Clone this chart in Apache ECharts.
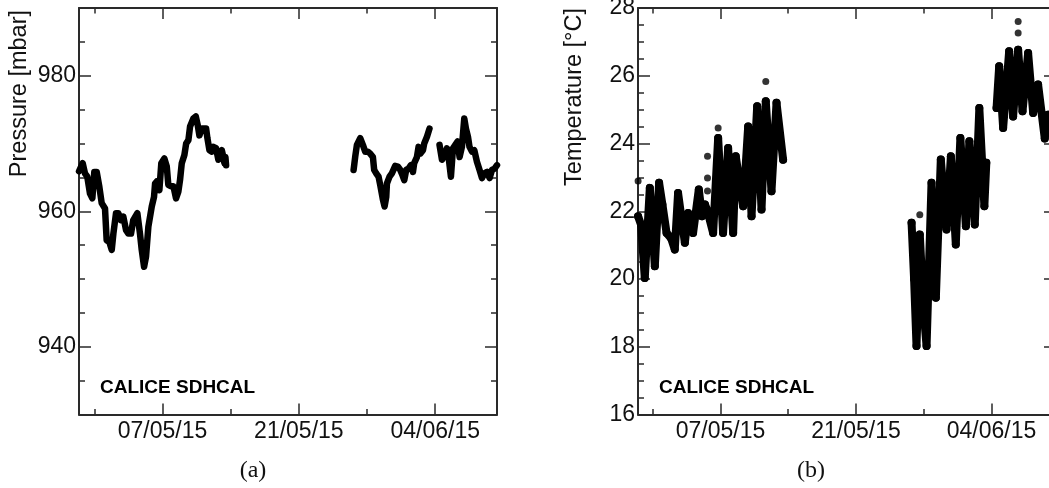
<!DOCTYPE html>
<html>
<head>
<meta charset="utf-8">
<script src="https://cdn.jsdelivr.net/npm/echarts@6/dist/echarts.min.js"></script>
<style>
  html, body { margin: 0; padding: 0; background: #fff; }
  #chart { width: 1049px; height: 488px; }
</style>
</head>
<body>
<div id="chart"></div>
<script>
// Time axis: days since 30/04/15 00:00
const dateTickDays = [0, 14, 28];          // short weekly ticks
const dateLabelDays = [7, 21, 35];         // long ticks carrying a date label
const dateLabels = ['07/05/15', '21/05/15', '04/06/15'];

const pressureLabelTicks = [940, 960, 980];
const pressureMinorTicks = [935, 945, 950, 955, 965, 970, 975, 985];
const tempLabelTicks = [16, 18, 20, 22, 24, 26, 28];
const tempMinorTicks = [16.5, 17, 17.5, 18.5, 19, 19.5, 20.5, 21, 21.5, 22.5, 23, 23.5, 24.5, 25, 25.5, 26.5, 27, 27.5];

// Ambient pressure (mbar); null separates the three data-taking periods
const pressureDays = [
  -1.57, -1.19, -0.96, -0.72, -0.44, -0.2, 0, 0.25, 0.52, 0.76, 1.1, 1.27, 1.54, 1.79, 1.96, 2.23, 2.47, 2.71, 2.98,
  3.26, 3.5, 3.77, 4.0, 4.42, 4.69, 4.87, 5.11, 5.31, 5.55, 5.9, 6.13, 6.24, 6.41, 6.68, 6.88, 7.19, 7.44, 7.6, 7.85,
  8.12, 8.39, 8.63, 8.8, 8.98, 9.25, 9.43, 9.66, 9.83, 10.17, 10.42, 10.62, 10.79, 11.03, 11.27, 11.48, 11.61, 11.82,
  12.06, 12.22, 12.5, 12.74, 12.91, 13.09, 13.25, 13.36, 13.46, 13.53,
  null,
  26.62, 26.78, 26.96, 27.3, 27.57, 27.81, 28.09, 28.33, 28.6, 28.73, 28.94, 29.18, 29.35, 29.63, 29.8, 29.97, 30.04,
  30.31, 30.55, 30.89, 31.17, 31.41, 31.64, 31.82, 32.02, 32.26, 32.5, 32.71, 32.84, 33.12, 33.29, 33.46, 33.74,
  33.87, 34.15, 34.41,
  null,
  35.44, 35.69, 35.86, 36.03, 36.2, 36.37, 36.61, 36.82, 37.06, 37.29, 37.5, 37.74, 37.98, 38.15, 38.36, 38.52,
  38.77, 39.01, 39.28, 39.55, 39.8, 40.03, 40.31, 40.58, 40.83, 41.09, 41.34
];
const pressureMbar = [
  965.9, 967.1, 965.6, 965.1, 962.6, 961.9, 965.8, 965.8, 963.6, 961.2, 960.4, 955.7, 955.5, 954.3, 956.7, 959.7, 959.7,
  958.7, 959.2, 957.2, 956.7, 956.7, 958.7, 959.7, 956.7, 954.3, 951.8, 953.3, 957.7, 960.7, 962.1, 964.1, 964.4, 963.1,
  967.1, 967.8, 966.6, 963.9, 963.7, 963.7, 961.9, 962.9, 964.6, 967.1, 968.3, 970.0, 970.5, 972.5, 973.7, 974.0,
  972.7, 971.2, 972.2, 972.2, 972.2, 970.8, 969.0, 968.8, 969.5, 969.3, 967.6, 968.6, 969.0, 968.0, 967.1, 968.0, 966.8,
  null,
  966.1, 968.0, 969.8, 970.8, 969.8, 968.8, 968.8, 968.5, 968.0, 966.1, 965.6, 965.1, 963.9, 961.7, 960.7, 962.1,
  964.1, 965.1, 965.6, 966.7, 966.6, 966.1, 965.3, 964.6, 966.1, 966.3, 966.8, 965.8, 967.1, 968.0, 969.5, 968.5,
  969.0, 970.0, 971.0, 972.2,
  null,
  969.8, 967.6, 968.0, 968.5, 969.3, 968.0, 965.1, 969.3, 969.8, 970.3, 968.0, 969.5, 973.7, 972.2, 971.0, 969.5,
  968.8, 969.0, 967.3, 966.1, 964.9, 965.6, 965.8, 964.9, 966.1, 966.3, 966.8
];

// Hall temperature (°C): daily highs and lows of the sensor readings
const tempDays = [
  -1.51, -1.2, -0.82, -0.3, 0.22, 0.66, 1.0, 1.43, 1.9, 2.28, 2.62, 3.32, 3.66, 4.17, 4.76, 5.1, 5.4, 5.66, 6.24,
  6.76, 7.27, 7.79, 8.31, 8.58, 9.34, 9.86, 10.21, 10.79, 11.24, 11.68, 12.27, 12.79, 13.47,
  null,
  26.74, 27.0, 27.25, 27.59, 28.0, 28.29, 28.8, 29.25, 29.76, 30.35, 30.8, 31.31, 31.78, 32.35, 32.71, 33.27, 33.74,
  34.26, 34.46,
  null,
  35.52, 35.79, 36.2, 36.82, 37.23, 37.75, 38.2, 38.78, 39.3, 39.81, 40.5, 40.84
];
const tempC = [
  21.85, 21.6, 20.03, 22.69, 20.38, 22.84, 22.2, 21.36, 21.2, 20.87, 22.54, 21.07, 21.95, 21.36, 22.64, 21.85, 22.2,
  22.0, 21.36, 24.16, 21.36, 23.87, 21.36, 23.62, 22.15, 24.5, 21.85, 25.1, 22.05, 25.25, 22.59, 25.2, 23.52,
  null,
  21.66, 20.0, 18.02, 21.31, 19.0, 18.02, 22.84, 19.45, 23.53, 21.46, 23.62, 21.02, 24.16, 21.56, 24.07, 21.61, 25.05,
  22.15, 23.43,
  null,
  25.05, 26.28, 24.46, 26.72, 24.8, 26.77, 24.95, 26.67, 24.9, 25.74, 24.15, 24.85
];
// Isolated readings away from the daily band
const tempSpikeDays = [-1.51, 5.66, 5.66, 5.66, 6.76, 11.68, 27.59, 37.75, 37.75];
const tempSpikeC = [22.89, 23.62, 22.98, 22.6, 24.46, 25.83, 21.9, 27.6, 27.26];

const FRAME = '#2a2a2a';
const LABEL_FONT = 'Liberation Sans, Arial, Helvetica, sans-serif';
const tickStyle = { color: FRAME, width: 1.5 };

const toPairs = (xs, ys) => xs.map((x, i) => (x === null ? ['-', '-'] : [x, ys[i]]));

function dateText(v) {
  const i = dateLabelDays.findIndex(d => Math.abs(d - v) < 1e-6);
  return i >= 0 ? dateLabels[i] : '';
}

// Four x axes per panel: bottom/top, long labelled ticks and short weekly ticks
function xAxes(grid, min, max) {
  const base = { gridIndex: grid, type: 'value', min, max, splitLine: { show: false } };
  return [
    Object.assign({}, base, {
      position: 'bottom',
      axisLine: { show: true, onZero: false, lineStyle: { color: FRAME, width: 2 } },
      axisTick: { show: true, inside: true, length: 11, customValues: dateLabelDays, lineStyle: tickStyle },
      axisLabel: {
        show: true, customValues: dateLabelDays, formatter: dateText, margin: 6,
        fontFamily: LABEL_FONT, fontSize: 23, color: '#111'
      }
    }),
    Object.assign({}, base, {
      position: 'bottom',
      axisLine: { show: false, onZero: false },
      axisTick: { show: true, inside: true, length: 5.5, customValues: dateTickDays, lineStyle: tickStyle },
      axisLabel: { show: false }
    }),
    Object.assign({}, base, {
      position: 'top',
      axisLine: { show: true, onZero: false, lineStyle: { color: FRAME, width: 2 } },
      axisTick: { show: true, inside: true, length: 11, customValues: dateLabelDays, lineStyle: tickStyle },
      axisLabel: { show: false }
    }),
    Object.assign({}, base, {
      position: 'top',
      axisLine: { show: false, onZero: false },
      axisTick: { show: true, inside: true, length: 5.5, customValues: dateTickDays, lineStyle: tickStyle },
      axisLabel: { show: false }
    })
  ];
}

function yAxes(grid, min, max, majors, minors, labelMargin) {
  const base = { gridIndex: grid, type: 'value', min, max, splitLine: { show: false } };
  return [
    Object.assign({}, base, {
      position: 'left',
      axisLine: { show: true, onZero: false, lineStyle: { color: FRAME, width: 2 } },
      axisTick: { show: true, inside: true, length: 12, customValues: majors, lineStyle: tickStyle },
      axisLabel: {
        show: true, customValues: majors, margin: labelMargin,
        fontFamily: LABEL_FONT, fontSize: 23, color: '#111'
      }
    }),
    Object.assign({}, base, {
      position: 'left',
      axisLine: { show: false, onZero: false },
      axisTick: { show: true, inside: true, length: 6, customValues: minors, lineStyle: tickStyle },
      axisLabel: { show: false }
    }),
    Object.assign({}, base, {
      position: 'right',
      axisLine: { show: true, onZero: false, lineStyle: { color: FRAME, width: 2 } },
      axisTick: { show: true, inside: true, length: 12, customValues: majors, lineStyle: tickStyle },
      axisLabel: { show: false }
    }),
    Object.assign({}, base, {
      position: 'right',
      axisLine: { show: false, onZero: false },
      axisTick: { show: true, inside: true, length: 6, customValues: minors, lineStyle: tickStyle },
      axisLabel: { show: false }
    })
  ];
}

const chart = echarts.init(document.getElementById('chart'), null, { renderer: 'canvas' });

chart.setOption({
  backgroundColor: '#fff',
  animation: false,
  grid: [
    { left: 79, top: 8, width: 418, height: 406.5, outerBoundsMode: 'none', containLabel: false },
    { left: 638, top: 8, width: 418, height: 406.5, outerBoundsMode: 'none', containLabel: false }
  ],
  xAxis: [].concat(xAxes(0, -1.57, 41.34), xAxes(1, -1.52, 41.66)),
  yAxis: [].concat(
    yAxes(0, 930, 990, pressureLabelTicks, pressureMinorTicks, 3),
    yAxes(1, 16, 28, tempLabelTicks, tempMinorTicks, 3)
  ),
  series: [
    {
      name: 'Pressure',
      type: 'line',
      xAxisIndex: 0, yAxisIndex: 0,
      data: toPairs(pressureDays, pressureMbar),
      showSymbol: false,
      connectNulls: false,
      lineStyle: { color: '#000', width: 6.5, cap: 'round', join: 'round' },
      z: 3
    },
    {
      name: 'Temperature',
      type: 'line',
      xAxisIndex: 4, yAxisIndex: 4,
      data: toPairs(tempDays, tempC),
      showSymbol: true,
      symbol: 'circle',
      symbolSize: 8,
      itemStyle: { color: '#000' },
      connectNulls: false,
      lineStyle: { color: '#000', width: 8, cap: 'round', join: 'round' },
      z: 3
    },
    {
      name: 'Temperature spikes',
      type: 'scatter',
      xAxisIndex: 4, yAxisIndex: 4,
      data: toPairs(tempSpikeDays, tempSpikeC),
      symbol: 'circle',
      symbolSize: 7,
      itemStyle: { color: '#000' },
      z: 3
    }
  ],
  graphic: [
    {
      type: 'text', x: 20, y: 10, rotation: Math.PI / 2,
      style: { text: 'Pressure [mbar]', font: '23.5px Liberation Sans, Arial, sans-serif', fill: '#111', align: 'right', verticalAlign: 'middle' }
    },
    {
      type: 'text', x: 575, y: 8, rotation: Math.PI / 2,
      style: { text: 'Temperature [°C]', font: '23.5px Liberation Sans, Arial, sans-serif', fill: '#111', align: 'right', verticalAlign: 'middle' }
    },
    {
      type: 'text', x: 100, y: 388,
      style: { text: 'CALICE SDHCAL', font: 'bold 19px Liberation Sans, Arial, sans-serif', fill: '#000', align: 'left', verticalAlign: 'middle' }
    },
    {
      type: 'text', x: 659, y: 388,
      style: { text: 'CALICE SDHCAL', font: 'bold 19px Liberation Sans, Arial, sans-serif', fill: '#000', align: 'left', verticalAlign: 'middle' }
    },
    {
      type: 'text', x: 253, y: 471,
      style: { text: '(a)', font: '24px Liberation Serif, Times New Roman, serif', fill: '#111', align: 'center', verticalAlign: 'middle' }
    },
    {
      type: 'text', x: 811, y: 471,
      style: { text: '(b)', font: '24px Liberation Serif, Times New Roman, serif', fill: '#111', align: 'center', verticalAlign: 'middle' }
    }
  ]
});
</script>
</body>
</html>
